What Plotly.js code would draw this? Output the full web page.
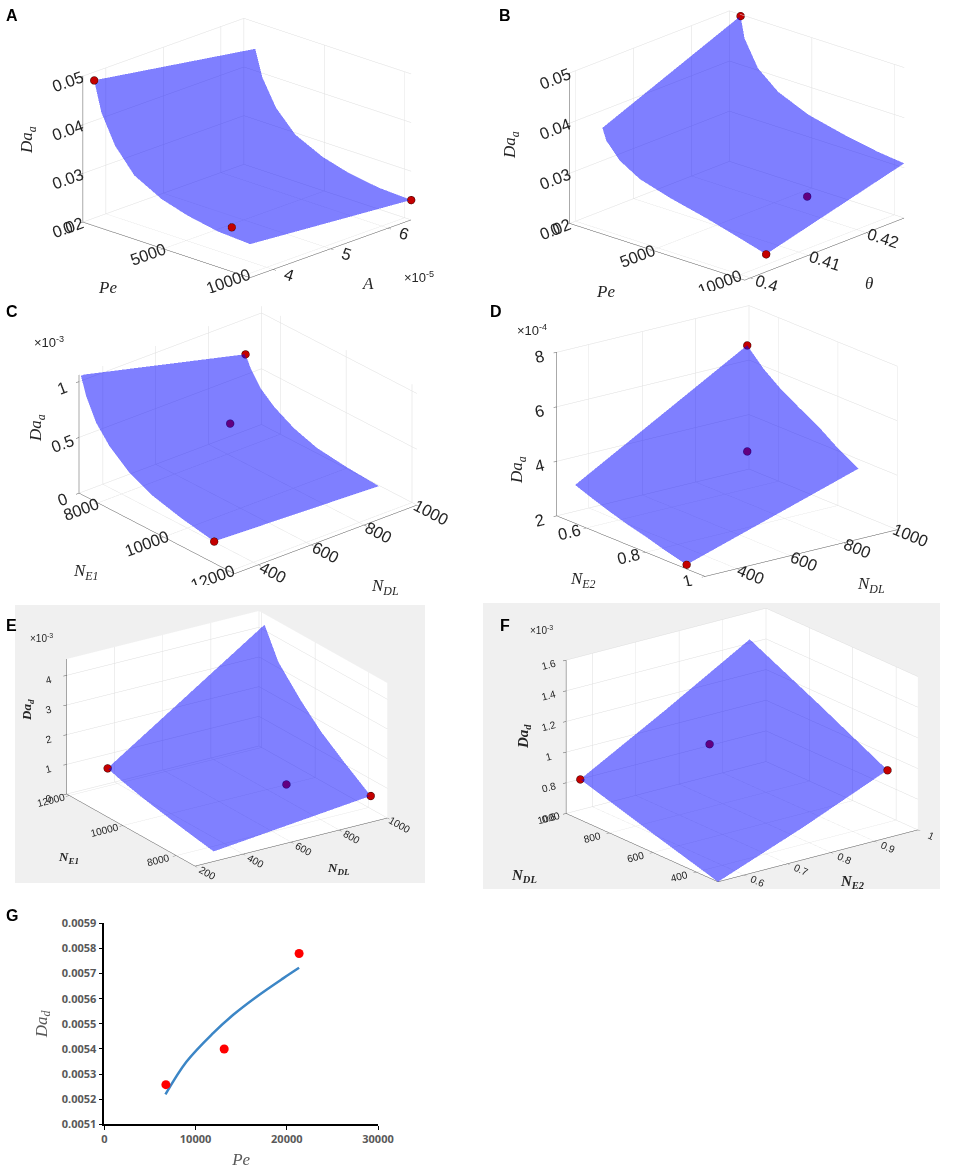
<!DOCTYPE html>
<html>
<head>
<meta charset="utf-8">
<script src="https://cdn.plot.ly/plotly-3.0.1.min.js"></script>
<style>
  html, body { margin: 0; padding: 0; background: #ffffff; }
  #fig { width: 957px; height: 1175px; }
</style>
</head>
<body>
<div id="fig"></div>
<script>
// ---- panel A: Da_a vs Pe and A (A in units of 1e-5)
const peA = [700, 1150, 2000, 3200, 4900, 6500, 8400, 10400];
const ampA = [3.6, 6.4];
const daA_lowAmp = [0.0499, 0.0438, 0.0379, 0.0331, 0.0301, 0.0285, 0.0273, 0.0269];
const daA_highAmp = [0.0445, 0.0391, 0.0338, 0.0296, 0.0269, 0.0254, 0.0244, 0.0241];
const ptA_pe = [700, 8900, 10400];
const ptA_amp = [3.6, 3.7, 6.4];
const ptA_da = [0.0499, 0.0283, 0.0241];

// ---- panel B: Da_a vs Pe and theta
const peB = [673, 917, 1733, 2956, 4800, 7000, 9000, 10600];
const thetaB = [0.4027, 0.4265];
const daB_lowTheta = [0.0381, 0.0358, 0.0327, 0.0303, 0.0285, 0.0268, 0.0250, 0.0235];
const daB_highTheta = [0.0497, 0.0455, 0.0404, 0.0370, 0.0344, 0.0327, 0.0315, 0.0309];
const ptB_pe = [673, 7000, 10600];
const ptB_theta = [0.4265, 0.42, 0.4027];
const ptB_da = [0.0497, 0.0234, 0.0235];

// ---- panel C: Da_a (1e-3) vs N_E1 and N_DL
const ne1C = [7480, 7650, 7950, 8350, 8950, 9650, 10550, 11530];
const ndlC = [310, 933];
const daC_lowNdl = [1.067, 0.90, 0.71, 0.564, 0.42, 0.32, 0.25, 0.195];
const daC_highNdl = [0.697, 0.59, 0.46, 0.36, 0.26, 0.19, 0.156, 0.135];
const ptC_ne1 = [7480, 7600, 11530];
const ptC_ndl = [933, 860, 310];
const ptC_da = [0.697, 0.16, 0.195];

// ---- panel D: Da_a (1e-4) vs N_E2 and N_DL
const ne2D = [0.544, 0.6, 0.66, 0.72, 0.79, 0.85, 0.92];
const ndlD = [300, 944];
const daD_lowNdl = [3.28, 3.05, 2.82, 2.62, 2.42, 2.22, 2.03];
const daD_highNdl = [6.87, 6.25, 5.75, 5.36, 4.92, 4.46, 4.02];
const ptD_ne2 = [0.544, 0.544, 0.92];
const ptD_ndl = [944, 944, 300];
const ptD_da = [6.87, 2.98, 2.03];

// ---- panel E: Da_d (1e-3) vs N_DL and N_E1
const ndlE = [300, 953];
const ne1E = [7500, 8500, 9350, 10100, 10950, 11470];
const daE_lowNdl = [0.19, 0.35, 0.50, 0.64, 0.83, 0.985];
const daE_highNdl = [0.74, 1.38, 1.96, 2.62, 3.50, 4.50];
const ptE_ndl = [300, 780, 953];
const ptE_ne1 = [11470, 9100, 7500];
const ptE_da = [0.985, 0.67, 0.74];

// ---- panel F: Da_d (1e-3) vs N_E2 and N_DL
const ne2F = [0.54, 0.735, 0.93];
const ndlF = [300, 617, 935];
const daF_ndl300 = [0.60, 0.81, 1.041];
const daF_ndl617 = [0.73, 0.99, 1.27];
const daF_ndl935 = [0.864, 1.17, 1.49];
const ptF_ne2 = [0.54, 0.82, 0.93];
const ptF_ndl = [935, 900, 300];
const ptF_da = [0.864, 0.91, 1.041];

// ---- panel G: Da_d vs Pe
const peG_fit = [6700, 9000, 11900, 14100, 16700, 19600, 21350];
const daG_fit = [0.005219, 0.005349, 0.005462, 0.005535, 0.005608, 0.005681, 0.005723];
const peG_pts = [6750, 13140, 21350];
const daG_pts = [0.005258, 0.00540, 0.00578];

const BLUE = '#0000ff';
const TICK_FONT = {family: 'Liberation Sans, Arial, sans-serif', size: 14, color: '#262626'};

function surf(x, y, z, scene) {
    return {
        type: 'surface', x: x, y: y, z: z, scene: scene,
        colorscale: [[0, BLUE], [1, BLUE]], showscale: false, opacity: 0.5,
        lighting: {ambient: 1, diffuse: 0, specular: 0, roughness: 1, fresnel: 0},
        hoverinfo: 'skip'
    };
}

function dots(x, y, z, scene) {
    return {
        type: 'scatter3d', mode: 'markers', x: x, y: y, z: z, scene: scene,
        marker: {size: 4.5, color: '#c40000', line: {color: '#3a0000', width: 1}},
        hoverinfo: 'skip'
    };
}

// axis titles are drawn as annotations below, so the 3D titles stay empty
function ax(range, tickvals, opts) {
    const a = {
        title: {text: ''},
        range: range, tickvals: tickvals, autorange: false, tickformat: 'd',
        showbackground: false, backgroundcolor: '#ffffff',
        gridcolor: '#dedede', gridwidth: 1,
        showline: true, linecolor: '#555555', linewidth: 1,
        ticks: 'outside', ticklen: 4, tickcolor: '#555555',
        zeroline: false, showspikes: false,
        tickfont: TICK_FONT
    };
    return Object.assign(a, opts || {});
}

// domains in pixels (left, right, top, bottom); in orthographic view the box size
// follows the aspect ratio, so "zoom" is the common factor on it
function scene(px, eye, zoom, aspZ, xa, ya, za) {
    return {
        domain: {x: [px[0] / 957, px[1] / 957], y: [1 - px[3] / 1175, 1 - px[2] / 1175]},
        camera: {eye: {x: eye[0] * 3, y: eye[1] * 3, z: eye[2] * 3}, up: {x: 0, y: 0, z: 1},
                 center: {x: 0, y: 0, z: 0}, projection: {type: 'orthographic'}},
        aspectmode: 'manual', aspectratio: {x: zoom, y: zoom, z: aspZ * zoom},
        xaxis: xa, yaxis: ya, zaxis: za,
        bgcolor: 'rgba(0,0,0,0)'
    };
}

const small = {tickfont: {family: 'Liberation Sans, Arial, sans-serif', size: 11, color: '#262626'}};
const walls = {showbackground: true, backgroundcolor: '#ffffff'};
const ef = (o) => Object.assign({}, small, walls, o || {});
const dec = (f) => ({tickformat: f});

const traces = [
    surf(peA, ampA, [daA_lowAmp, daA_highAmp], 'scene'),
    dots(ptA_pe, ptA_amp, ptA_da, 'scene'),
    surf(peB, thetaB, [daB_lowTheta, daB_highTheta], 'scene2'),
    dots(ptB_pe, ptB_theta, ptB_da, 'scene2'),
    surf(ne1C, ndlC, [daC_lowNdl, daC_highNdl], 'scene3'),
    dots(ptC_ne1, ptC_ndl, ptC_da, 'scene3'),
    surf(ne2D, ndlD, [daD_lowNdl, daD_highNdl], 'scene4'),
    dots(ptD_ne2, ptD_ndl, ptD_da, 'scene4'),
    surf(ndlE, ne1E, ne1E.map((_, i) => [daE_lowNdl[i], daE_highNdl[i]]), 'scene5'),
    dots(ptE_ndl, ptE_ne1, ptE_da, 'scene5'),
    surf(ne2F, ndlF, [daF_ndl300, daF_ndl617, daF_ndl935], 'scene6'),
    dots(ptF_ne2, ptF_ndl, ptF_da, 'scene6'),
    {
        type: 'scatter', mode: 'lines', x: peG_fit, y: daG_fit,
        line: {color: '#3c86c6', width: 2.5, shape: 'spline'}, hoverinfo: 'skip'
    },
    {
        type: 'scatter', mode: 'markers', x: peG_pts, y: daG_pts,
        marker: {color: '#ff0000', size: 9}, hoverinfo: 'skip'
    }
];

const layout = {
    width: 957, height: 1175,
    margin: {l: 0, r: 0, t: 0, b: 0},
    paper_bgcolor: '#ffffff',
    showlegend: false,
    font: {family: 'Liberation Sans, Arial, sans-serif'},
    scene: scene([28.5, 464.1, 2.9, 292.9], [1.30, -1.35, 0.69], 1.601, 0.67,
        ax([0, 10400], [0, 5000, 10000]),
        ax([3.6, 6.4], [4, 5, 6]),
        ax([0.02, 0.05], [0.02, 0.03, 0.04, 0.05], dec('.2f'))),
    scene2: scene([518.2, 956.4, 0, 291], [1.26, -1.38, 0.71], 1.627, 0.68,
        ax([0, 10600], [0, 5000, 10000]),
        ax([0.399, 0.4265], [0.4, 0.41, 0.42], dec('.2~f')),
        ax([0.02, 0.05], [0.02, 0.03, 0.04, 0.05], dec('.2f'))),
    scene3: scene([30.4, 466.0, 295.4, 585.4], [1.365, -1.163, 0.883], 1.653, 0.55,
        ax([7430, 12150], [8000, 10000, 12000]),
        ax([310, 1000], [400, 600, 800, 1000]),
        ax([0, 1.06], [0, 0.5, 1], dec('~g'))),
    scene4: scene([499.9, 953.9, 296.2, 586.2], [1.503, -1.158, 0.631], 1.674, 0.71,
        ax([0.5, 1.0], [0.6, 0.8, 1], dec('~g')),
        ax([280, 1000], [400, 600, 800, 1000]),
        ax([2, 8], [2, 4, 6, 8])),
    scene5: scene([22.3, 431.9, 594, 883], [-1.029, -1.542, 0.749], 1.600, 0.63,
        ax([200, 1000], [200, 400, 600, 800, 1000], ef()),
        ax([7300, 12100], [8000, 10000, 12000], ef()),
        ax([0, 4.55], [0, 1, 2, 3, 4], ef())),
    scene6: scene([527, 957, 600, 890], [-1.137, -1.497, 0.684], 1.731, 0.65,
        ax([0.54, 1.0], [0.6, 0.7, 0.8, 0.9, 1], ef(dec('~g'))),
        ax([300, 1000], [400, 600, 800, 1000], ef()),
        ax([0.6, 1.6], [0.6, 0.8, 1, 1.2, 1.4, 1.6], ef(dec('~g')))),
    xaxis: {
        domain: [0.109, 0.395], anchor: 'y', range: [0, 30000],
        tickvals: [0, 10000, 20000, 30000], tickformat: 'd', showgrid: false, zeroline: false,
        showline: true, linecolor: '#000000', linewidth: 1.5,
        ticks: 'outside', ticklen: 4, tickcolor: '#000000',
        tickfont: {family: 'Open Sans, sans-serif', size: 11, color: '#595959', weight: 'bold'},
        title: {text: '<i>Pe</i>', font: {family: 'Liberation Serif, serif', size: 17, color: '#595959'}, standoff: 8}
    },
    yaxis: {
        domain: [0.0431, 0.2142], anchor: 'x', range: [0.0051, 0.0059],
        dtick: 0.0001, tickformat: '.4f', showgrid: false, zeroline: false,
        showline: true, linecolor: '#000000', linewidth: 1.5,
        ticks: 'outside', ticklen: 4, tickcolor: '#000000',
        tickfont: {family: 'Open Sans, sans-serif', size: 11, color: '#595959', weight: 'bold'},
        title: {text: '<i>Da</i><sub><i>d</i></sub>', font: {family: 'Liberation Serif, serif', size: 17, color: '#595959'}, standoff: 10}
    },
    plot_bgcolor: '#ffffff',
    shapes: [
        {type: 'rect', xref: 'paper', yref: 'paper', x0: 15 / 957, x1: 425 / 957, y0: 1 - 883 / 1175, y1: 1 - 605 / 1175,
         fillcolor: '#f0f0f0', line: {width: 0}, layer: 'below'},
        {type: 'rect', xref: 'paper', yref: 'paper', x0: 483 / 957, x1: 940 / 957, y0: 1 - 889 / 1175, y1: 1 - 603 / 1175,
         fillcolor: '#f0f0f0', line: {width: 0}, layer: 'below'}
    ],
    annotations: []
};

function label(txt, px, py, size, opts) {
    return Object.assign({
        text: txt, xref: 'paper', yref: 'paper', x: px / 957, y: 1 - py / 1175,
        xanchor: 'left', yanchor: 'middle', showarrow: false,
        font: {family: 'Liberation Sans, Arial, sans-serif', size: size, color: '#000000'}
    }, opts || {});
}

// italic serif axis title centred on (px, py)
function axTitle(txt, px, py, size, rot, bold) {
    const t = bold ? '<b>' + txt + '</b>' : txt;
    return {
        text: t, xref: 'paper', yref: 'paper', x: px / 957, y: 1 - py / 1175,
        xanchor: 'center', yanchor: 'middle', showarrow: false, textangle: rot || 0,
        font: {family: 'Liberation Serif, Times New Roman, serif', size: size, color: '#262626'}
    };
}

const DA_A = '<i>Da</i><sub><i>a</i></sub>';
const DA_D = '<i>Da</i><sub><i>d</i></sub>';
const N_E1 = '<i>N</i><sub><i>E1</i></sub>';
const N_E2 = '<i>N</i><sub><i>E2</i></sub>';
const N_DL = '<i>N</i><sub><i>DL</i></sub>';
const MULT = {family: 'Liberation Sans', size: 13, color: '#262626'};
const MULT_S = {family: 'Liberation Sans', size: 10, color: '#262626'};

layout.annotations.push(
    label('<b>A</b>', 4, 15, 16), label('<b>B</b>', 497, 15, 16),
    label('<b>C</b>', 4, 311, 16), label('<b>D</b>', 488, 311, 16),
    label('<b>E</b>', 4, 625, 16), label('<b>F</b>', 498, 625, 16),
    label('<b>G</b>', 4, 916, 16),
    label('×10<sup>-5</sup>', 402, 277, 13, {font: MULT}),
    label('×10<sup>-3</sup>', 32, 342, 13, {font: MULT}),
    label('×10<sup>-4</sup>', 515, 330, 13, {font: MULT}),
    label('×10<sup>-3</sup>', 28, 638, 10, {font: MULT_S}),
    label('×10<sup>-3</sup>', 528, 630, 10, {font: MULT_S}),
    // panel A
    axTitle('<i>Pe</i>', 107, 287, 17), axTitle('<i>A</i>', 368, 283, 17), axTitle(DA_A, 28, 140, 17, -90),
    // panel B
    axTitle('<i>Pe</i>', 605, 291, 17), axTitle('<i>θ</i>', 869, 284, 17), axTitle(DA_A, 511, 145, 17, -90),
    // panel C
    axTitle(N_E1, 86, 572, 17), axTitle(N_DL, 385, 587, 17), axTitle(DA_A, 37, 428, 17, -90),
    // panel D
    axTitle(N_E2, 583, 580, 17), axTitle(N_DL, 871, 585, 17), axTitle(DA_A, 518, 470, 17, -90),
    // panel E
    axTitle(N_E1, 68, 857, 13, 0, true), axTitle(N_DL, 338, 868, 13, 0, true), axTitle(DA_D, 27, 710, 13, -90, true),
    // panel F
    axTitle(N_DL, 524, 876, 15, 0, true), axTitle(N_E2, 852, 882, 15, 0, true), axTitle(DA_D, 524, 737, 15, -90, true)
);

Plotly.newPlot('fig', traces, layout, {displayModeBar: false});
</script>
</body>
</html>
